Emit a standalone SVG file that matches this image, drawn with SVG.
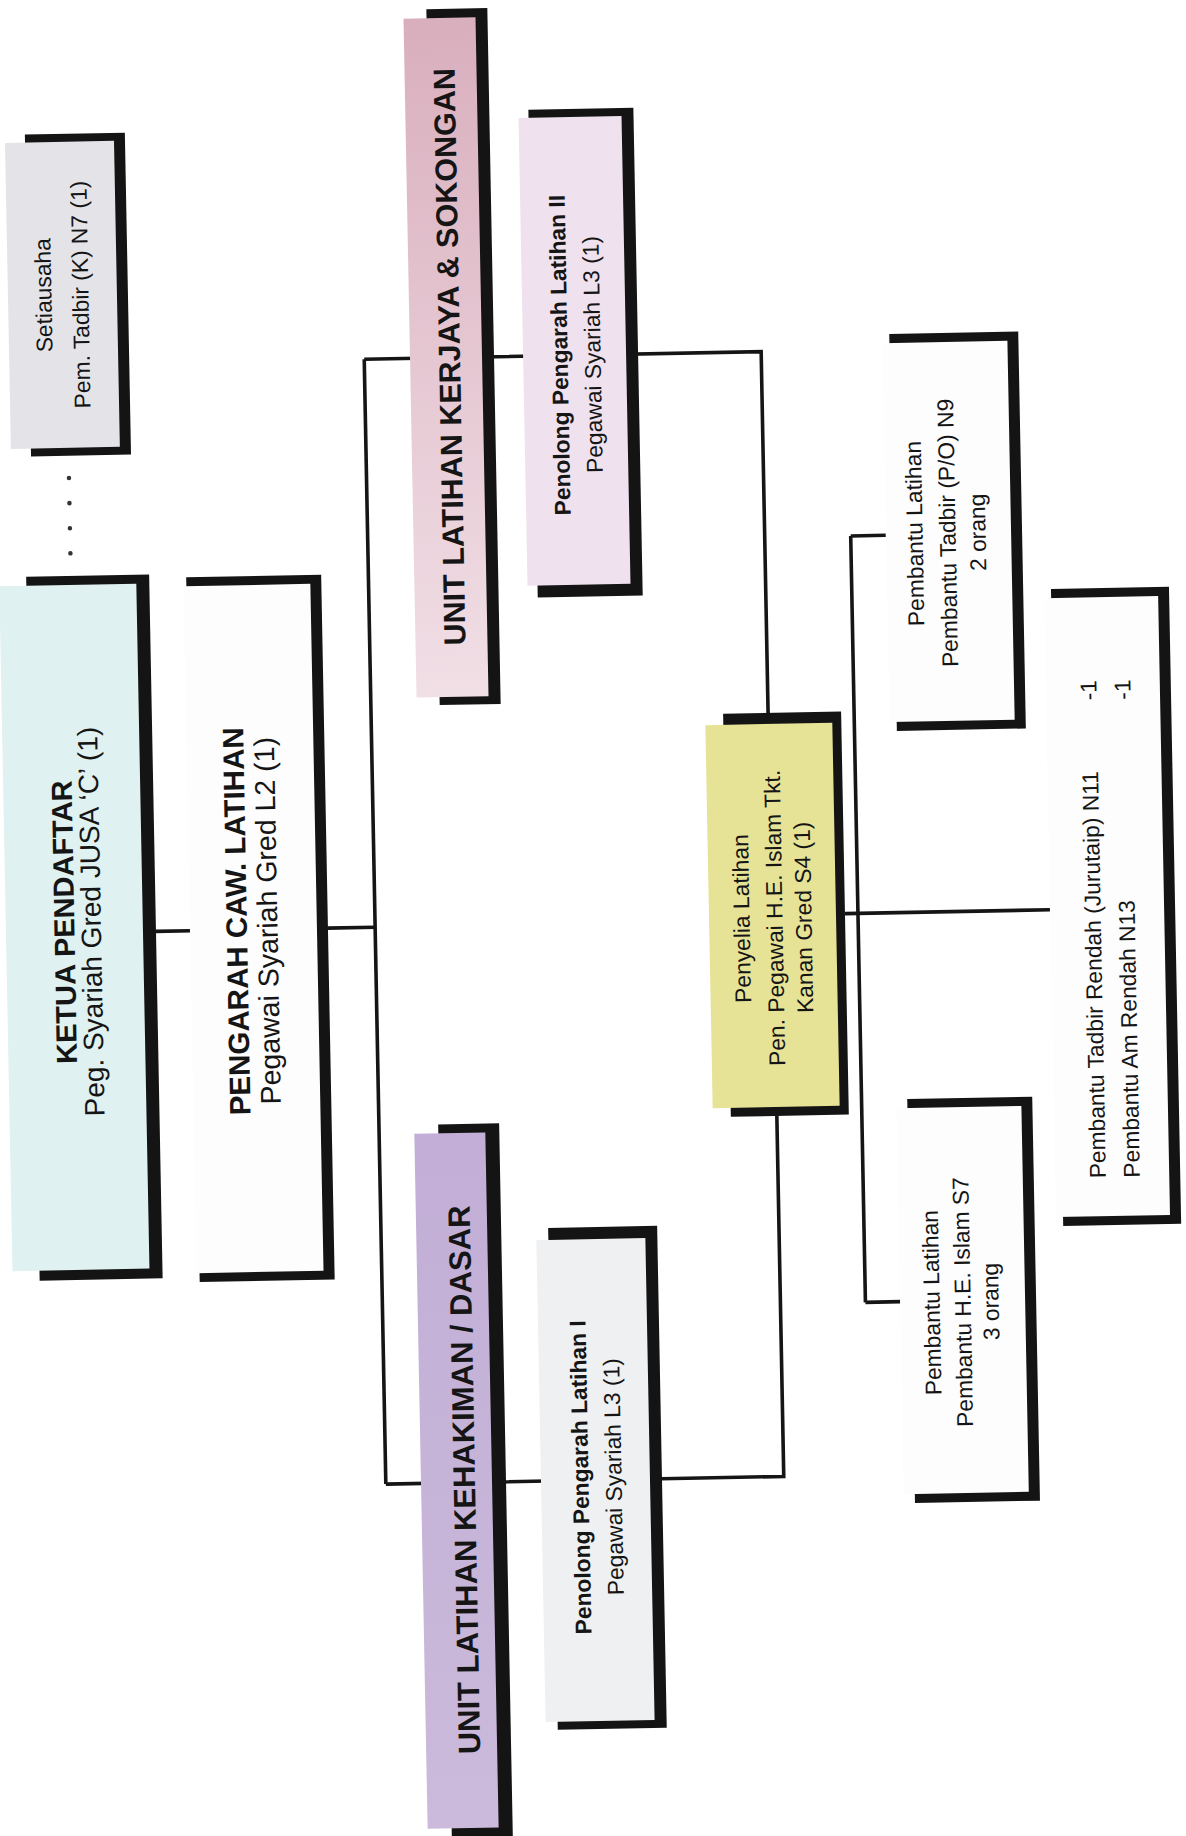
<svg xmlns="http://www.w3.org/2000/svg" width="1186" height="1836" viewBox="0 0 1186 1836">
<defs>
<style>
.t{font-family:"Liberation Sans",Arial,sans-serif;fill:#151515;text-anchor:middle}
.s{font-size:22.8px}
.b{font-weight:bold}
.sh{fill:#141414}
.w{fill:#fdfdfd}
.c{stroke:#151515;stroke-width:3.6;fill:none}
.dot{stroke:#333;stroke-width:4.5;stroke-linecap:round;stroke-dasharray:0.1 25;fill:none}
</style>
<linearGradient id="gPink" x1="0" y1="0" x2="0" y2="1">
<stop offset="0" stop-color="#d9aebd"/>
<stop offset="0.5" stop-color="#e5c7d2"/>
<stop offset="1" stop-color="#f1dfe6"/>
</linearGradient>
<linearGradient id="gLav" x1="0" y1="0" x2="0" y2="1">
<stop offset="0" stop-color="#c2aed6"/>
<stop offset="1" stop-color="#cbbadb"/>
</linearGradient>
</defs>
<rect width="1186" height="1836" fill="#ffffff"/>
<g transform="rotate(-1.1 593 918)">
<g id="connectors">
<path class="dot" d="M77.5 468V544"/>
<path class="c" d="M155 923H191"/>
<path class="c" d="M327 923H375"/>
<path class="c" d="M375 355V1480"/>
<path class="c" d="M375 355H772V717"/>
<path class="c" d="M375 1480H773V1119"/>
<path class="c" d="M845 918.5H1050"/>
<path class="c" d="M858 541V1307.5"/>
<path class="c" d="M858 541H893"/>
<path class="c" d="M858 1307.5H893"/>
</g>
<g id="setiausaha" transform="translate(12,-10.2)">
<rect class="sh" x="28" y="134" width="100" height="322"/>
<rect x="8" y="142" width="109" height="306" fill="#e4e4e8"/>
<text class="t s" transform="translate(51.5,295) rotate(-90)">Setiausaha</text>
<text class="t s" transform="translate(88.5,295) rotate(-90)">Pem. Tadbir (K) N7 (1)</text>
</g>
<g id="ketua-pendaftar" transform="translate(-0.2,-10)">
<rect class="sh" x="33" y="576" width="123" height="704"/>
<rect x="6" y="585" width="137" height="685" fill="#dff1f0"/>
<text class="t b" font-size="29" transform="translate(74.5,922) rotate(-90)">KETUA PENDAFTAR</text>
<text class="t" font-size="28" transform="translate(101,922) rotate(-90)">Peg. Syariah Gred JUSA ‘C’ (1)</text>
</g>
<g id="pengarah" transform="translate(-0.2,-6.5)">
<rect class="sh" x="193" y="576" width="135" height="705"/>
<rect class="w" x="190" y="585" width="127" height="687"/>
<text class="t b" font-size="29.5" transform="translate(247,921) rotate(-90)">PENGARAH CAW. LATIHAN</text>
<text class="t" font-size="28.5" transform="translate(277.5,921) rotate(-90)">Pegawai Syariah Gred L2 (1)</text>
</g>
<g id="unit-kerjaya" transform="translate(10.8,-2.8)">
<rect class="sh" x="433" y="9" width="61" height="696"/>
<rect x="410" y="18" width="72" height="679" fill="url(#gPink)"/>
<text class="t b" font-size="30.5" transform="translate(460,357) rotate(-90)">UNIT LATIHAN KERJAYA &amp; SOKONGAN</text>
</g>
<g id="penolong-2" transform="translate(10.9,-0.4)">
<rect class="sh" x="533" y="109" width="105" height="488"/>
<rect x="523" y="117" width="103" height="468" fill="#efe2ee"/>
<text class="t s b" transform="translate(567.5,355) rotate(-90)">Penolong Pengarah Latihan II</text>
<text class="t s" transform="translate(600.5,355) rotate(-90)">Pegawai Syariah L3 (1)</text>
</g>
<g id="unit-kehakiman" transform="translate(-10.8,-2.6)">
<rect class="sh" x="445" y="1124" width="61" height="740"/>
<rect x="421" y="1133" width="71" height="695" fill="url(#gLav)"/>
<text class="t b" font-size="31" transform="translate(475,1480) rotate(-90)">UNIT LATIHAN KEHAKIMAN / DASAR</text>
</g>
<g id="penolong-1" transform="translate(-10.8,0)">
<rect class="sh" x="553" y="1227" width="109" height="502"/>
<rect x="541" y="1239" width="109" height="482" fill="#eef0f1"/>
<text class="t s b" transform="translate(588.5,1477) rotate(-90)">Penolong Pengarah Latihan I</text>
<text class="t s" transform="translate(621.5,1477) rotate(-90)">Pegawai Syariah L3 (1)</text>
</g>
<g id="penyelia" transform="translate(0,3.4)">
<rect class="sh" x="727" y="713" width="118" height="403"/>
<rect x="709" y="724" width="127" height="383" fill="#e7e396"/>
<text class="t s" transform="translate(749.5,918) rotate(-90)">Penyelia Latihan</text>
<text class="t s" transform="translate(782.5,918) rotate(-90)">Pen. Pegawai H.E. Islam Tkt.</text>
<text class="t s" transform="translate(811.5,918) rotate(-90)">Kanan Gred S4 (1)</text>
</g>
<g id="pembantu-n9" transform="translate(7.4,6.8)">
<rect class="sh" x="893" y="333" width="129" height="397"/>
<rect class="w" x="886" y="342" width="125" height="379"/>
<text class="t s" transform="translate(922.5,533) rotate(-90)">Pembantu Latihan</text>
<text class="t s" transform="translate(955.5,533) rotate(-90)">Pembantu Tadbir (P/O) N9</text>
<text class="t s" transform="translate(985.5,533) rotate(-90)">2 orang</text>
</g>
<g id="pembantu-s7" transform="translate(-7.3,7.1)">
<rect class="sh" x="911" y="1098" width="125" height="404"/>
<rect class="w" x="900" y="1107" width="125" height="386"/>
<text class="t s" transform="translate(939.5,1302) rotate(-90)">Pembantu Latihan</text>
<text class="t s" transform="translate(970.5,1302) rotate(-90)">Pembantu H.E. Islam S7</text>
<text class="t s" transform="translate(998.5,1302) rotate(-90)">3 orang</text>
</g>
<g id="pembantu-rendah" transform="translate(0.2,9.9)">
<rect class="sh" x="1057" y="588" width="118" height="637"/>
<rect class="w" x="1050" y="597" width="114" height="619"/>
<text class="t s" style="text-anchor:start" transform="translate(1100.5,1178) rotate(-90)">Pembantu Tadbir Rendah (Jurutaip) N11</text>
<text class="t s" style="text-anchor:start" transform="translate(1134.5,1178) rotate(-90)">Pembantu Am Rendah N13</text>
<text class="t s" transform="translate(1100.5,690) rotate(-90)">-1</text>
<text class="t s" transform="translate(1134.5,690) rotate(-90)">-1</text>
</g>
</g>
</svg>
